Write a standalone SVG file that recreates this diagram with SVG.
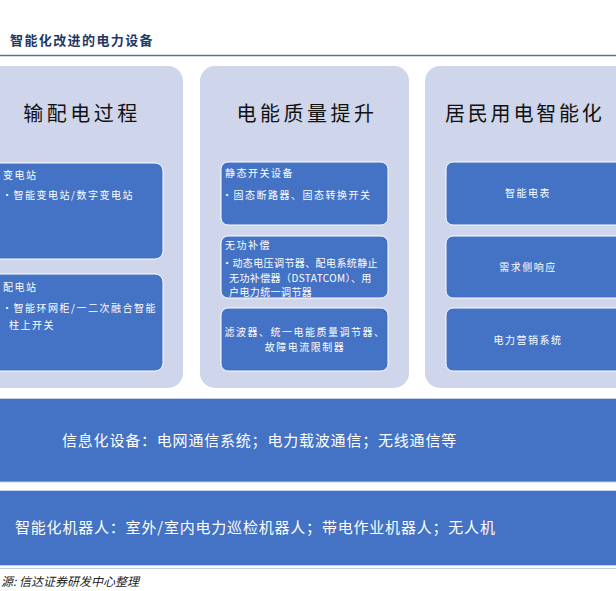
<svg xmlns="http://www.w3.org/2000/svg" width="616" height="591" viewBox="0 0 616 591">
<style>
text{font-family:"Noto Sans CJK SC","Noto Sans",sans-serif}
.panel{fill:#cfd5ea}
.box{fill:#4472c4;stroke:#ffffff;stroke-width:1}
.bar{fill:#4472c4;stroke:#c5d0ea;stroke-width:1}
.ptitle{font-size:20px;fill:#111111;letter-spacing:3.5px;text-anchor:middle}
.bt{font-size:10px;fill:#ffffff;letter-spacing:1.5px}
.bts{font-size:10px;fill:#ffffff;letter-spacing:0.4px}
.btc{font-size:10px;fill:#ffffff;letter-spacing:1.5px;text-anchor:middle}
.big{font-size:15px;fill:#ffffff;letter-spacing:0.8px}
</style>
<rect width="616" height="591" fill="#ffffff"/>
<g id="header">
<text x="10" y="45" style="font-size:13px;font-weight:bold;fill:#1f3864;letter-spacing:1.4px">智能化改进的电力设备</text>
<line x1="0" y1="55.5" x2="616" y2="55.5" stroke="#5b7099" stroke-width="1.5"/>
</g>
<g id="panel-left">
<rect class="panel" x="-20" y="66" width="203" height="322" rx="15"/>
<text class="ptitle" x="82" y="121">输配电过程</text>
</g>
<g id="box-substation">
<rect class="box" x="-20" y="163" width="183" height="96" rx="8"/>
<text class="bt" x="3" y="179">变电站</text>
<text class="bt" x="2" y="199">•智能变电站/数字变电站</text>
</g>
<g id="box-distribution">
<rect class="box" x="-20" y="274" width="183" height="97" rx="8"/>
<text class="bt" x="3" y="291">配电站</text>
<text class="bt" x="2" y="312">•智能环网柜/一二次融合智能</text>
<text class="bt" x="9" y="329">柱上开关</text>
</g>
<g id="panel-middle">
<rect class="panel" x="200" y="66" width="209" height="322" rx="15"/>
<text class="ptitle" x="307" y="121">电能质量提升</text>
</g>
<g id="box-static">
<rect class="box" x="221" y="162" width="167" height="63" rx="7"/>
<text class="bt" x="225" y="177">静态开关设备</text>
<text class="bt" x="222" y="199">•固态断路器、固态转换开关</text>
</g>
<g id="box-reactive">
<rect class="box" x="221" y="236" width="167" height="62" rx="7"/>
<text class="bt" x="225" y="249">无功补偿</text>
<text class="bts" x="222" y="267">•动态电压调节器、配电系统静止</text>
<text class="bts" x="229" y="282">无功补偿器（DSTATCOM）、用</text>
<text class="bts" x="229" y="296">户电力统一调节器</text>
</g>
<g id="box-filter">
<rect class="box" x="221" y="308" width="167" height="63" rx="7"/>
<text class="btc" x="305" y="336">滤波器、统一电能质量调节器、</text>
<text class="btc" x="305" y="351">故障电流限制器</text>
</g>
<g id="panel-right">
<rect class="panel" x="425" y="66" width="210" height="322" rx="15"/>
<text x="445" y="121" style="font-size:20px;fill:#111111;letter-spacing:2.8px">居民用电智能化</text>
</g>
<g id="box-meter">
<rect class="box" x="446" y="162" width="185" height="63" rx="7"/>
<text class="btc" x="528" y="197">智能电表</text>
</g>
<g id="box-demand">
<rect class="box" x="446" y="236" width="185" height="62" rx="7"/>
<text class="btc" x="528" y="271">需求侧响应</text>
</g>
<g id="box-marketing">
<rect class="box" x="446" y="308" width="185" height="63" rx="7"/>
<text class="btc" x="528" y="344">电力营销系统</text>
</g>
<g id="bar-info">
<rect class="bar" x="-2" y="398.5" width="620" height="83.5"/>
<text class="big" x="62" y="446">信息化设备：电网通信系统；电力载波通信；无线通信等</text>
</g>
<g id="bar-robot">
<rect class="bar" x="-2" y="490.5" width="620" height="75"/>
<text class="big" x="15" y="533">智能化机器人：室外/室内电力巡检机器人；带电作业机器人；无人机</text>
</g>
<g id="footer">
<line x1="0" y1="568.5" x2="616" y2="568.5" stroke="#c5cce0" stroke-width="1"/>
<text x="1" y="586" style="font-size:12px;font-style:italic;fill:#222222">源: 信达证券研发中心整理</text>
</g>
<g id="connectors"></g>
</svg>
